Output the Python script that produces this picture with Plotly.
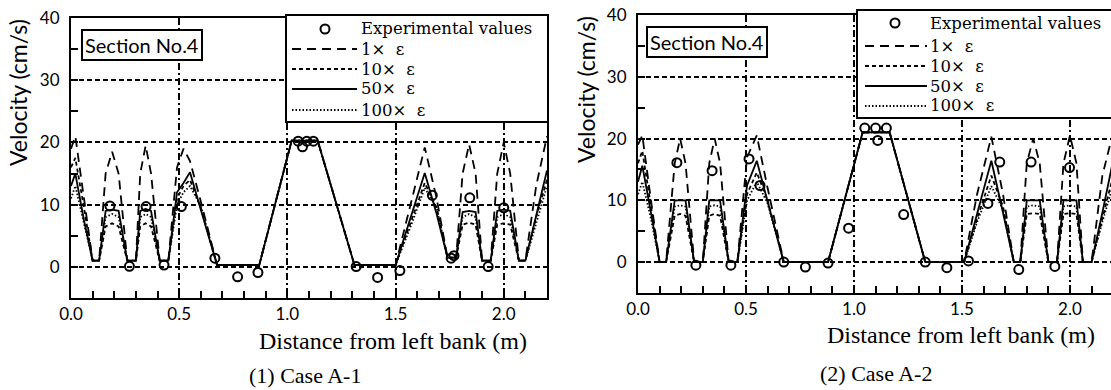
import plotly.graph_objects as go

W, H = 1111, 390

# ---------------- Case A-1 ----------------
x_a1 = [0.00, 0.02, 0.06, 0.10, 0.13, 0.16, 0.19, 0.22, 0.26, 0.30, 0.32, 0.345, 0.37, 0.41,
        0.45, 0.49, 0.52, 0.55, 0.60, 0.675, 0.87, 1.02, 1.14, 1.31, 1.50, 1.57, 1.635, 1.69,
        1.74, 1.78, 1.81, 1.84, 1.87, 1.90, 1.94, 1.97, 2.00, 2.03, 2.07, 2.10, 2.15, 2.20]
v1_a1 = [19.0, 21.0, 11.0, 1.0, 1.0, 15.0, 18.5, 15.0, 1.0, 1.0, 15.0, 19.5, 15.0, 1.0,
         1.0, 16.0, 19.0, 17.0, 10.5, 0.3, 0.3, 20.3, 20.3, 0.3, 0.3, 10.0, 19.2, 11.0,
         1.5, 1.5, 15.0, 19.7, 15.0, 1.0, 1.0, 15.0, 20.0, 15.0, 1.0, 1.0, 13.0, 21.0]
v10_a1 = [16.0, 17.5, 9.5, 1.0, 1.0, 6.5, 7.0, 6.5, 1.0, 1.0, 6.5, 7.0, 6.5, 1.0,
          1.0, 11.0, 13.0, 14.0, 9.5, 0.3, 0.3, 20.3, 20.3, 0.3, 0.3, 7.0, 13.5, 9.5,
          1.5, 1.5, 6.8, 7.1, 6.8, 1.0, 1.0, 6.8, 7.0, 6.8, 1.0, 1.0, 8.0, 14.0]
v50_a1 = [13.0, 15.0, 7.5, 1.0, 1.0, 9.0, 9.2, 9.0, 1.0, 1.0, 9.0, 9.3, 9.0, 1.0,
          1.0, 12.0, 13.5, 15.2, 9.2, 0.3, 0.3, 20.3, 20.3, 0.3, 0.3, 7.8, 15.1, 8.5,
          1.5, 1.5, 8.8, 9.0, 8.8, 1.0, 1.0, 9.0, 9.2, 9.0, 1.0, 1.0, 8.5, 15.5]
v100_a1 = [11.0, 13.0, 7.0, 1.0, 1.0, 8.0, 8.5, 8.0, 1.0, 1.0, 8.0, 8.5, 8.0, 1.0,
           1.0, 10.0, 12.0, 13.0, 9.8, 0.3, 0.3, 20.3, 20.3, 0.3, 0.3, 6.5, 12.7, 9.5,
           1.5, 1.5, 8.0, 8.5, 8.0, 1.0, 1.0, 8.0, 8.5, 8.0, 1.0, 1.0, 7.0, 13.0]
exp_x_a1 = [0.18, 0.27, 0.347, 0.43, 0.51, 0.665, 0.77, 0.864, 1.05, 1.07, 1.09, 1.12,
            1.318, 1.417, 1.52, 1.67, 1.757, 1.77, 1.843, 1.928, 2.0]
exp_y_a1 = [9.8, 0.1, 9.7, 0.3, 9.7, 1.4, -1.6, -0.9, 20.2, 19.3, 20.2, 20.2,
            0.05, -1.7, -0.6, 11.5, 1.4, 1.8, 11.1, 0.05, 9.5]

# ---------------- Case A-2 ----------------
x_a2 = [0.00, 0.02, 0.06, 0.10, 0.13, 0.17, 0.195, 0.22, 0.26, 0.30, 0.33, 0.355, 0.38, 0.42,
        0.46, 0.505, 0.55, 0.60, 0.675, 0.88, 1.04, 1.165, 1.33, 1.51, 1.57, 1.636, 1.69,
        1.74, 1.77, 1.80, 1.83, 1.86, 1.90, 1.94, 1.97, 2.00, 2.03, 2.06, 2.10, 2.15, 2.20]
v1_a2 = [19.0, 20.5, 10.0, 0.0, 0.0, 16.0, 20.0, 16.0, 0.0, 0.0, 16.0, 20.0, 16.0, 0.0,
         0.0, 17.0, 20.5, 12.0, 0.0, 0.0, 21.0, 21.0, 0.0, 0.0, 11.0, 20.3, 11.0,
         0.0, 0.0, 16.0, 20.0, 16.0, 0.0, 0.0, 16.0, 20.5, 16.0, 0.0, 0.0, 14.0, 21.0]
v10_a2 = [16.0, 18.0, 9.0, 0.0, 0.0, 7.5, 7.8, 7.5, 0.0, 0.0, 7.5, 7.8, 7.5, 0.0,
          0.0, 11.0, 14.5, 10.0, 0.0, 0.0, 21.0, 21.0, 0.0, 0.0, 7.0, 14.0, 9.0,
          0.0, 0.0, 7.8, 7.9, 7.8, 0.0, 0.0, 7.8, 7.9, 7.8, 0.0, 0.0, 7.0, 14.0]
v50_a2 = [13.0, 15.6, 8.0, 0.0, 0.0, 10.0, 10.0, 10.0, 0.0, 0.0, 10.0, 10.0, 10.0, 0.0,
          0.0, 12.4, 16.4, 9.8, 0.0, 0.0, 21.0, 21.0, 0.0, 0.0, 7.8, 16.4, 8.0,
          0.0, 0.0, 10.0, 10.0, 10.0, 0.0, 0.0, 10.0, 10.0, 10.0, 0.0, 0.0, 8.0, 16.5]
v100_a2 = [11.0, 13.0, 7.0, 0.0, 0.0, 9.0, 9.2, 9.0, 0.0, 0.0, 9.0, 9.2, 9.0, 0.0,
           0.0, 10.0, 13.0, 9.5, 0.0, 0.0, 21.0, 21.0, 0.0, 0.0, 6.5, 12.3, 8.5,
           0.0, 0.0, 9.0, 9.2, 9.0, 0.0, 0.0, 9.0, 9.2, 9.0, 0.0, 0.0, 6.5, 12.5]
exp_x_a2 = [0.18, 0.268, 0.343, 0.43, 0.514, 0.565, 0.675, 0.775, 0.88, 0.975, 1.05, 1.10,
            1.11, 1.15, 1.23, 1.33, 1.43, 1.53, 1.62, 1.675, 1.763, 1.82, 1.93, 1.998]
exp_y_a2 = [16.1, -0.5, 14.8, -0.5, 16.7, 12.4, 0.0, -0.8, -0.15, 5.5, 21.7, 21.7,
            19.7, 21.7, 7.7, 0.0, -0.9, 0.2, 9.5, 16.2, -1.2, 16.2, -0.7, 15.3]

series_names = ["1×  ε", "10×  ε", "50×  ε", "100×  ε"]
exp_name = "Experimental values"
x_tick_vals = [0.0, 0.5, 1.0, 1.5, 2.0]
x_tick_text = ["0.0", "0.5", "1.0", "1.5", "2.0"]
y_tick_vals = [0, 10, 20, 30, 40]
y_tick_text = ["0", "10", "20", "30", "40"]
y_title = "Velocity (cm/s)"
x_title = "Distance from left bank (m)"
captions = ["(1) Case A-1", "(2) Case A-2"]
section_label = "Section No.4"

# ---------------- styling ----------------
dashes = ["9px,6px", "4px,3px", "solid", "1.5px,2px"]
SANS = "Lato"
SERIF = "Liberation Serif"
LEG = "DejaVu Serif"


def PX(x):
    return x / W


def PY(y):
    return 1 - y / H


fig = go.Figure()

cases = [
    (x_a1, [v1_a1, v10_a1, v50_a1, v100_a1], exp_x_a1, exp_y_a1, "x", "y"),
    (x_a2, [v1_a2, v10_a2, v50_a2, v100_a2], exp_x_a2, exp_y_a2, "x2", "y2"),
]
for xs, ys_list, ex, ey, xa, ya in cases:
    for name, ys, d in zip(series_names, ys_list, dashes):
        fig.add_trace(go.Scatter(x=xs, y=ys, mode="lines", name=name, xaxis=xa, yaxis=ya,
                                 line=dict(color="black", width=1.8, dash=d),
                                 showlegend=False))
    fig.add_trace(go.Scatter(x=ex, y=ey, mode="markers", name=exp_name, xaxis=xa, yaxis=ya,
                             marker=dict(symbol="circle-open", size=9, color="black",
                                         line=dict(width=2, color="black")),
                             showlegend=False, cliponaxis=False))


def xaxis_cfg(domain, rng, anchor):
    return dict(domain=domain, range=rng, anchor=anchor, automargin=False,
                showline=True, linecolor="black", linewidth=2, mirror=True, zeroline=False,
                tickvals=x_tick_vals, ticktext=x_tick_text, ticks="inside", ticklen=6,
                tickwidth=1.5, tickcolor="black", ticklabelstandoff=0,
                tickfont=dict(family=SANS, size=17, color="black"),
                showgrid=True, gridcolor="black", gridwidth=1.5, griddash="7px,3px,2px,3px",
                minor=dict(dtick=0.1, tick0=0, ticks="inside", ticklen=7, tickwidth=1.5,
                           tickcolor="black", showgrid=False))


def yaxis_cfg(domain, anchor, mirror):
    return dict(domain=domain, range=[-5, 40], anchor=anchor, automargin=False,
                showline=True, linecolor="black", linewidth=2, mirror=mirror, zeroline=False,
                tickvals=y_tick_vals, ticktext=y_tick_text, ticks="inside", ticklen=6,
                tickwidth=1.5, tickcolor="black", ticklabelstandoff=6,
                tickfont=dict(family=SANS, size=17, color="black"),
                showgrid=True, gridcolor="black", gridwidth=1.5, griddash="5px,3px",
                minor=dict(dtick=5, tick0=0, ticks="inside", ticklen=7, tickwidth=1.5,
                           tickcolor="black", showgrid=False))


fig.update_layout(
    width=W, height=H,
    margin=dict(l=0, r=0, t=0, b=0, pad=0, autoexpand=False),
    paper_bgcolor="white", plot_bgcolor="white",
    showlegend=False,
    xaxis=xaxis_cfg([PX(71), PX(547)], [0, 2.2], "y"),
    yaxis=yaxis_cfg([PY(298), PY(18)], "x", True),
    xaxis2=xaxis_cfg([PX(638), 1.0], [0, 2.19], "y2"),
    yaxis2=yaxis_cfg([PY(293), PY(15)], "x2", False),
)

shapes = []
annotations = []


def add_legend(box, circ, lx0, lx1, tx, rows):
    bx0, by0, bx1, by1 = box
    shapes.append(dict(type="rect", xref="paper", yref="paper", x0=PX(bx0), x1=PX(bx1),
                       y0=PY(by1), y1=PY(by0), fillcolor="white",
                       line=dict(color="black", width=2), layer="above"))
    r = 4.5
    shapes.append(dict(type="circle", xref="paper", yref="paper",
                       x0=PX(circ - r), x1=PX(circ + r), y0=PY(rows[0] + r), y1=PY(rows[0] - r),
                       line=dict(color="black", width=2), layer="above"))
    annotations.append(dict(text=exp_name, xref="paper", yref="paper", x=PX(tx), y=PY(rows[0]),
                            xanchor="left", yanchor="middle", showarrow=False,
                            font=dict(family=LEG, size=16.5, color="black")))
    for name, d, ry in zip(series_names, dashes, rows[1:]):
        shapes.append(dict(type="line", xref="paper", yref="paper", x0=PX(lx0), x1=PX(lx1),
                           y0=PY(ry), y1=PY(ry), line=dict(color="black", width=1.8, dash=d),
                           layer="above"))
        annotations.append(dict(text=name, xref="paper", yref="paper", x=PX(tx), y=PY(ry),
                                xanchor="left", yanchor="middle", showarrow=False,
                                font=dict(family=LEG, size=16.5, color="black")))


add_legend((286, 15, 548, 122), 325, 292, 357, 359, [29, 49, 69, 89, 110])
add_legend((857, 10, 1116, 118), 895, 865, 927, 928, [23, 46, 66, 86, 106])

# section labels
for cx, cy in [(142, 45), (707, 42)]:
    annotations.append(dict(text=section_label, xref="paper", yref="paper", x=PX(cx), y=PY(cy),
                            xanchor="center", yanchor="middle", showarrow=False,
                            font=dict(family=SANS, size=20, color="black"),
                            bordercolor="black", borderwidth=2, borderpad=2, bgcolor="white"))

# axis titles and captions
for cx, cy in [(18, 93), (586, 90)]:
    annotations.append(dict(text=y_title, xref="paper", yref="paper", x=PX(cx), y=PY(cy),
                            xanchor="center", yanchor="middle", textangle=-90, showarrow=False,
                            font=dict(family=SANS, size=23, color="black")))
for cx, cy in [(393, 341), (961, 335)]:
    annotations.append(dict(text=x_title, xref="paper", yref="paper", x=PX(cx), y=PY(cy),
                            xanchor="center", yanchor="middle", showarrow=False,
                            font=dict(family=SERIF, size=24, color="black")))
for (cx, cy), cap in zip([(305, 375), (876, 373)], captions):
    annotations.append(dict(text=cap, xref="paper", yref="paper", x=PX(cx), y=PY(cy),
                            xanchor="center", yanchor="middle", showarrow=False,
                            font=dict(family=SERIF, size=22, color="black")))

fig.update_layout(shapes=shapes, annotations=annotations)
fig.write_html("out.html",
               config={"displayModeBar": False},
               post_script="document.body.style.margin='0px';"
                           "document.body.style.overflow='hidden';")
